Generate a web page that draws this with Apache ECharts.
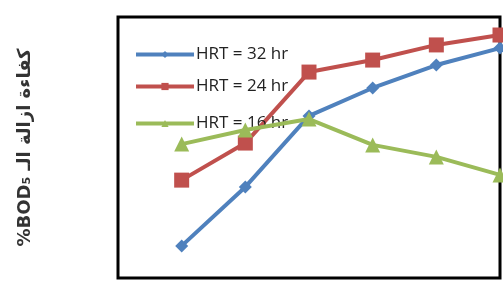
<!DOCTYPE html>
<html>
<head>
<meta charset="utf-8">
<script src="https://cdn.jsdelivr.net/npm/echarts@6/dist/echarts.min.js"></script>
<style>html,body{margin:0;padding:0;background:#fff;}#c{width:503px;height:282px;}</style>
</head>
<body>
<div id="c"></div>
<script>
var xValues = [1, 2, 3, 4, 5, 6];
var seriesNames = ['HRT = 32 hr', 'HRT = 24 hr', 'HRT = 16 hr'];
var hrt32 = [12.3, 34.9, 62.1, 72.8, 81.6, 88.1];
var hrt24 = [37.5, 51.7, 78.9, 83.5, 89.3, 93.1];
var hrt16 = [51.3, 56.7, 60.9, 51.0, 46.4, 39.5];
var yTitle = '%BOD\u2085 كفاءة ازالة الـ';

function pairs(vals) { return xValues.map(function (x, i) { return [x, vals[i]]; }); }

var chart = echarts.init(document.getElementById('c'), null, {renderer: 'canvas'});
var legendBase = {
  left: 129, orient: 'vertical', itemWidth: 58, itemHeight: 9,
  lineStyle: {width: 4},
  textStyle: {fontFamily: 'Open Sans', fontSize: 17, color: '#222', padding: [0, 0, 0, -3]}
};
chart.setOption({
  backgroundColor: '#fff',
  animation: false,
  grid: {left: 118, top: 17, right: 3, bottom: 4, show: true, borderColor: '#000', borderWidth: 3, backgroundColor: '#fff'},
  legend: [
    Object.assign({}, legendBase, {top: 41, data: [seriesNames[0]]}),
    Object.assign({}, legendBase, {top: 73, data: [seriesNames[1]]}),
    Object.assign({}, legendBase, {top: 110, data: [seriesNames[2]]})
  ],
  xAxis: {type: 'value', min: 0, max: 6, show: false},
  yAxis: {
    type: 'value', min: 0, max: 100,
    axisLine: {show: false}, axisTick: {show: false}, axisLabel: {show: false}, splitLine: {show: false},
    name: yTitle, nameLocation: 'middle', nameRotate: 90, nameGap: 84,
    nameTextStyle: {fontFamily: 'DejaVu Sans', fontWeight: 'bold', fontSize: 18, color: '#333'}
  },
  series: [
    {name: seriesNames[0], type: 'line', data: pairs(hrt32), symbol: 'diamond', symbolSize: 13,
     lineStyle: {width: 4, color: '#4F81BD'}, itemStyle: {color: '#4F81BD'}, z: 2},
    {name: seriesNames[1], type: 'line', data: pairs(hrt24), symbol: 'rect', symbolSize: 15,
     lineStyle: {width: 4, color: '#C0504D'}, itemStyle: {color: '#C0504D'}, z: 3},
    {name: seriesNames[2], type: 'line', data: pairs(hrt16), symbol: 'triangle', symbolSize: 15,
     lineStyle: {width: 4, color: '#9BBB59'}, itemStyle: {color: '#9BBB59'}, z: 4}
  ]
});
</script>
</body>
</html>
